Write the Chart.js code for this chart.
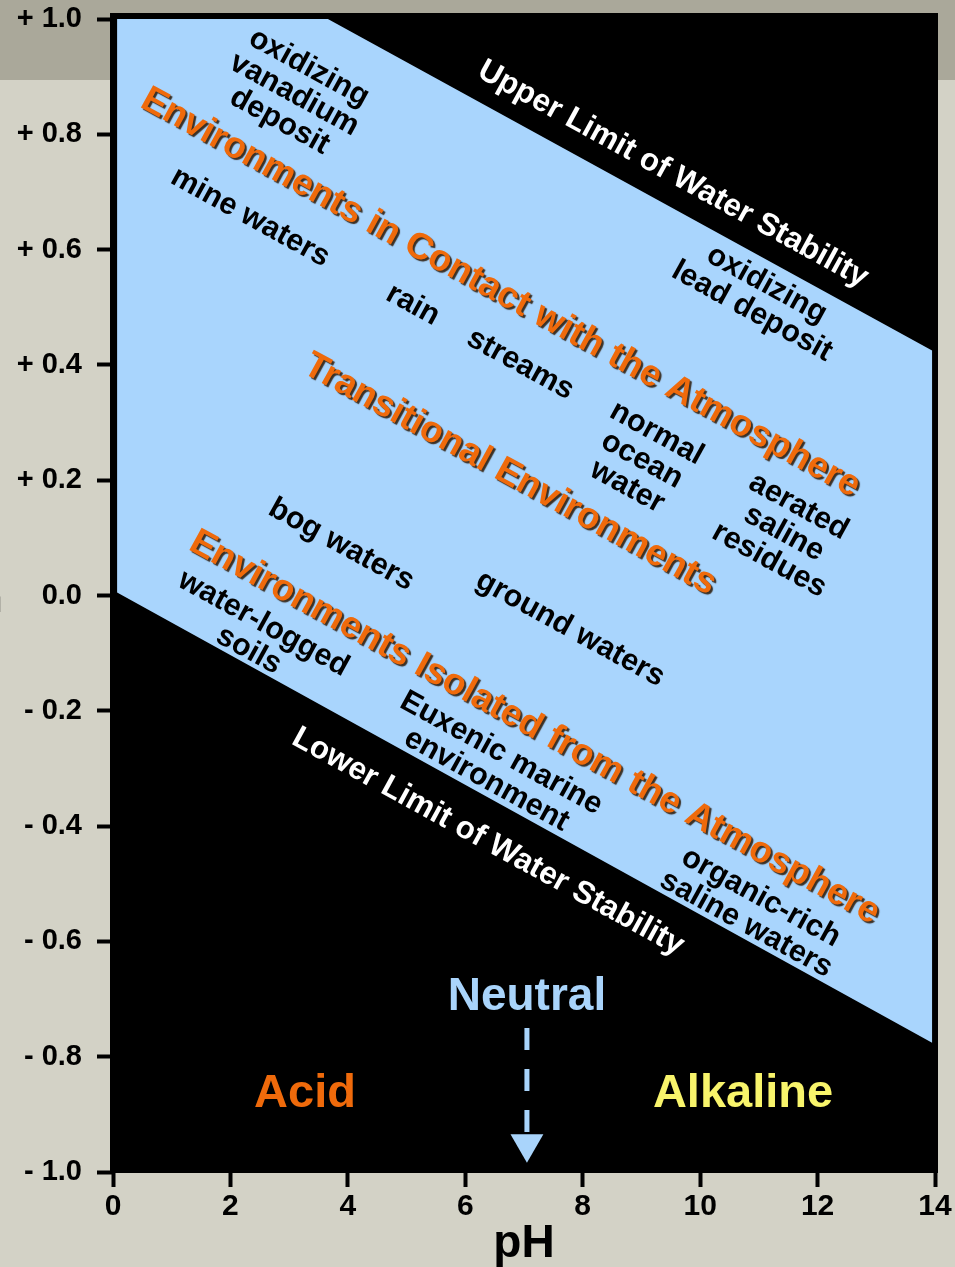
<!DOCTYPE html>
<html>
<head>
<meta charset="utf-8">
<title>Eh-pH limits of natural environments</title>
<script src="https://cdn.jsdelivr.net/npm/chart.js@4.4.1/dist/chart.umd.min.js"></script>
<style>
  html, body { margin: 0; padding: 0; background: #d3d2c6; }
  #wrap { width: 955px; height: 1267px; position: relative; }
</style>
</head>
<body>
<div id="wrap"><canvas id="ehph"></canvas></div>
<script>
// ---------------------------------------------------------------------------
// Data (pH on x, Eh in volts on y)
// ---------------------------------------------------------------------------

const xTicks = [0, 2, 4, 6, 8, 10, 12, 14];
const yTicks = [-1.0, -0.8, -0.6, -0.4, -0.2, 0.0, 0.2, 0.4, 0.6, 0.8, 1.0];

// field of water stability (closed outline)
const fieldPH = [0.07, 3.66, 13.95, 13.95, 0.07, 0.07];
const fieldEh = [1.0, 1.0, 0.425, -0.776, 0.005, 1.0];

// rules under the three group headings: [start, end]
const rulePH = [[0.38, 13.43], [2.93, 10.17], [0.90, 13.01]];
const ruleEh = [[0.835, 0.154], [0.388, -0.014], [0.099, -0.581]];

// neutral marker
const neutralPH = 7.05;
const neutralShaftEh = [-0.750, -0.934];
const neutralHeadEh = -0.951;

const labelText = [
    'oxidizing\nvanadium\ndeposit',
    'Upper Limit of Water Stability',
    'oxidizing\nlead deposit',
    'Environments in Contact with the Atmosphere',
    'mine waters',
    'rain',
    'streams',
    'normal\nocean\nwater',
    'aerated\nsaline\nresidues',
    'Transitional Environments',
    'bog waters',
    'ground waters',
    'Environments Isolated from the Atmosphere',
    'water-logged\nsoils',
    'Euxenic marine\nenvironment',
    'organic-rich\nsaline waters',
    'Lower Limit of Water Stability',
    'Neutral',
    'Acid',
    'Alkaline'
];
const labelPH = [3.12, 9.57, 11.04, 6.64, 2.37, 5.14, 6.97, 9.04, 11.46, 6.80,
                 3.92, 7.82, 7.22, 2.47, 6.52, 10.94, 6.42, 7.05, 3.27, 10.73];
const labelEh = [0.875, 0.737, 0.522, 0.532, 0.662, 0.510, 0.407, 0.241, 0.114, 0.217,
                 0.094, -0.052, -0.222, -0.066, -0.291, -0.541, -0.421, -0.686, -0.854, -0.854];
const labelKind = ['note', 'limit', 'note', 'head', 'note', 'note', 'note', 'note', 'note', 'head',
                   'note', 'note', 'head', 'note', 'note', 'note', 'limit', 'neutral', 'acid', 'alkaline'];

// ---------------------------------------------------------------------------
// Styling
// ---------------------------------------------------------------------------

const FONT = '"Liberation Sans", Arial, Helvetica, sans-serif';
const BLUE = '#a9d5fd';
const ORANGE = '#ef6a0b';

const LABEL_STYLES = {
    head:     { size: 37, color: ORANGE,    rotate: true,  lh: 38, shadow: true },
    note:     { size: 30.5, color: '#000000', rotate: true,  lh: 30.5 },
    limit:    { size: 31.5, color: '#ffffff', rotate: true,  lh: 32 },
    neutral:  { size: 46, color: '#a9d4fb', rotate: false, lh: 48 },
    acid:     { size: 47, color: ORANGE,    rotate: false, lh: 48 },
    alkaline: { size: 47, color: '#f8f46b', rotate: false, lh: 48 }
};

function fmtEh(v) {
    const r = Math.round(v * 10) / 10;
    if (r === 0) return '0.0';
    return (r > 0 ? '+ ' : '- ') + Math.abs(r).toFixed(1);
}

// ---------------------------------------------------------------------------
// Plugins: page background, black plot panel, text labels
// ---------------------------------------------------------------------------

const backdrop = {
    id: 'backdrop',
    beforeDraw(chart) {
        const { ctx, chartArea: a, width, height } = chart;
        ctx.save();
        ctx.fillStyle = '#d3d2c6';
        ctx.fillRect(0, 0, width, height);
        ctx.fillStyle = '#aaa89a';
        ctx.fillRect(0, 0, width, 80);
        ctx.fillStyle = '#000000';
        ctx.fillRect(a.left - 3, a.top - 6, a.right - a.left + 6, a.bottom - a.top + 7);
        // axis title, mostly cut off at the left edge
        ctx.font = `bold 44px ${FONT}`;
        ctx.textAlign = 'right';
        ctx.textBaseline = 'alphabetic';
        ctx.fillText('Eh', 3, 612);
        ctx.restore();
    }
};

const textLabels = {
    id: 'textLabels',
    afterDatasetsDraw(chart) {
        const { ctx, scales: { x, y } } = chart;
        // text follows the slope of the water limits
        const angle = Math.atan2(
            y.getPixelForValue(fieldEh[2]) - y.getPixelForValue(fieldEh[1]),
            x.getPixelForValue(fieldPH[2]) - x.getPixelForValue(fieldPH[1])
        );
        labelText.forEach((txt, i) => {
            const st = LABEL_STYLES[labelKind[i]];
            ctx.save();
            ctx.translate(x.getPixelForValue(labelPH[i]), y.getPixelForValue(labelEh[i]));
            if (st.rotate) ctx.rotate(angle);
            ctx.font = `bold ${st.size}px ${FONT}`;
            ctx.fillStyle = st.color;
            ctx.textAlign = 'center';
            ctx.textBaseline = 'middle';
            if (st.shadow) {
                ctx.shadowColor = 'rgba(40, 20, 0, 0.85)';
                ctx.shadowOffsetX = 2;
                ctx.shadowOffsetY = 2;
                ctx.shadowBlur = 1;
            }
            const lines = txt.split('\n');
            const dy = st.size * 0.13;   // centre on the glyphs, not the em box
            lines.forEach((ln, k) => {
                ctx.fillText(ln, 0, (k - (lines.length - 1) / 2) * st.lh + dy);
            });
            ctx.restore();
        });
    }
};

// ---------------------------------------------------------------------------
// Datasets
// ---------------------------------------------------------------------------

const datasets = [];

datasets.push({
    label: 'field',
    data: fieldPH.map((p, i) => ({ x: p, y: fieldEh[i] })),
    showLine: true,
    fill: 'shape',
    backgroundColor: BLUE,
    borderWidth: 0,
    pointRadius: 0,
    tension: 0
});

rulePH.forEach((pts, i) => {
    datasets.push({
        label: 'rule' + i,
        data: pts.map((p, k) => ({ x: p, y: ruleEh[i][k] })),
        showLine: true,
        borderColor: '#5e5e5e',
        borderWidth: 3,
        pointRadius: 0
    });
});

datasets.push({
    label: 'neutral shaft',
    data: neutralShaftEh.map(e => ({ x: neutralPH, y: e })),
    showLine: true,
    borderColor: '#a9d4fb',
    borderWidth: 5,
    borderDash: [22, 19],
    pointRadius: 0
});

datasets.push({
    label: 'neutral head',
    data: [{ x: neutralPH, y: neutralHeadEh }],
    pointStyle: 'triangle',
    rotation: 180,
    pointRadius: 19,
    pointBackgroundColor: '#a9d4fb',
    pointBorderWidth: 0,
    showLine: false
});

// ---------------------------------------------------------------------------
// Chart
// ---------------------------------------------------------------------------

new Chart(document.getElementById('ehph'), {
    type: 'scatter',
    data: { datasets },
    plugins: [backdrop, textLabels],
    options: {
        responsive: true,
        maintainAspectRatio: false,
        animation: false,
        layout: { padding: { top: 18, right: 20, left: 0, bottom: 0 } },
        plugins: {
            legend: { display: false },
            tooltip: { enabled: false }
        },
        scales: {
            x: {
                type: 'linear',
                min: 0,
                max: 14,
                afterBuildTicks: s => { s.ticks = xTicks.map(v => ({ value: v })); },
                afterFit: s => { s.height = 95; s.paddingLeft = 0; s.paddingRight = 0; },
                ticks: {
                    color: '#000',
                    font: { family: FONT, size: 30, weight: 'bold' },
                    padding: 2,
                    maxRotation: 0
                },
                grid: {
                    drawOnChartArea: false,
                    drawTicks: true,
                    tickLength: 15,
                    tickWidth: 4,
                    tickColor: '#000'
                },
                border: { display: false },
                title: {
                    display: true,
                    text: 'pH',
                    color: '#000',
                    font: { family: FONT, size: 46, weight: 'bold', lineHeight: 1.0 },
                    padding: 0
                }
            },
            y: {
                type: 'linear',
                min: -1,
                max: 1,
                afterBuildTicks: s => { s.ticks = yTicks.map(v => ({ value: v })); },
                afterFit: s => { s.width = 113; s.paddingTop = 0; s.paddingBottom = 0; },
                ticks: {
                    color: '#000',
                    font: { family: FONT, size: 29, weight: 'bold' },
                    padding: 15,
                    callback: v => fmtEh(v)
                },
                grid: {
                    drawOnChartArea: false,
                    drawTicks: true,
                    tickLength: 16,
                    tickWidth: 4,
                    tickColor: '#000'
                },
                border: { display: false }
            }
        }
    }
});
</script>
</body>
</html>
